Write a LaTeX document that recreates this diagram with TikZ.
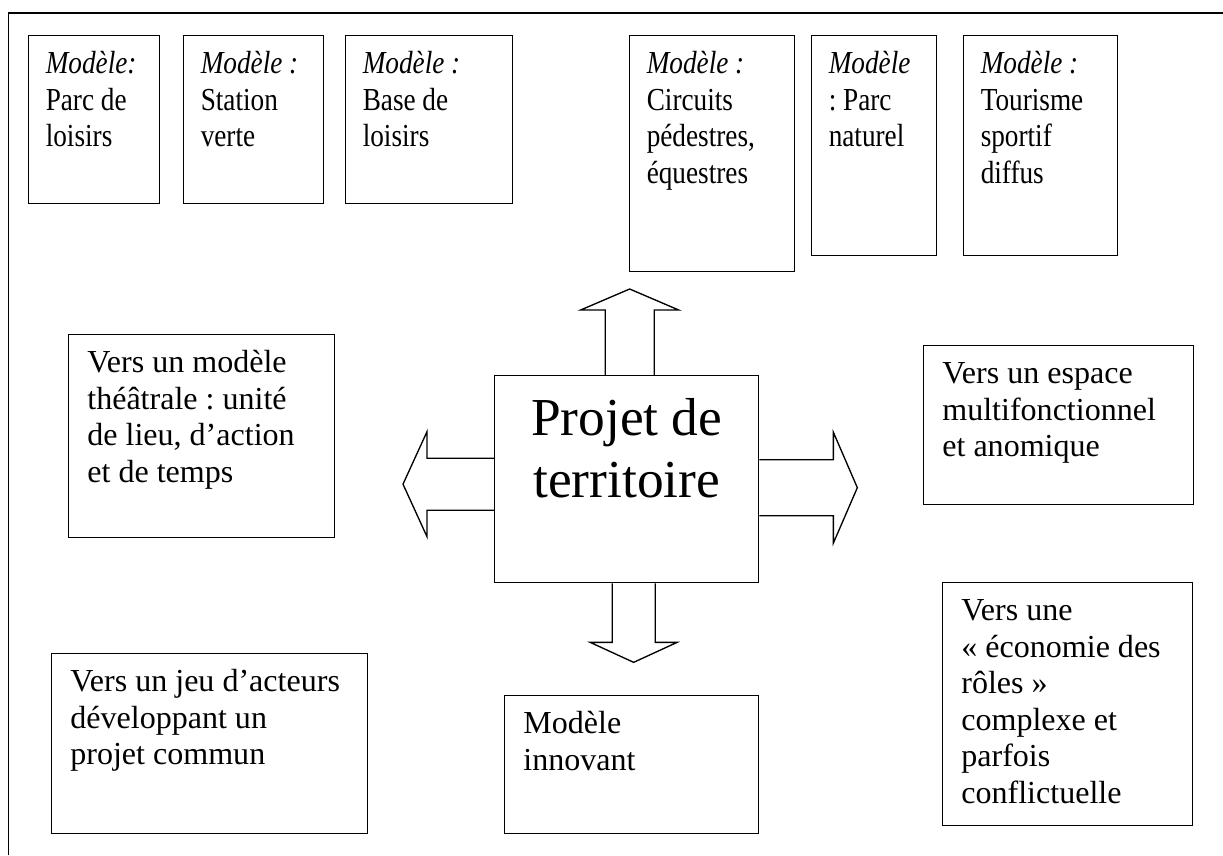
\documentclass[tikz,border=0pt]{standalone}
\usepackage{fontspec}
\setmainfont{Liberation Serif}
\newfontfamily\narrowserif[FakeStretch=0.85]{Liberation Serif}
\frenchspacing
\usetikzlibrary{calc}
\newcommand\bigarrow[6]{
  \begin{scope}[shift={#1},rotate=#2]
    \draw[fat] (0,-#4/2) -- (#3-#6,-#4/2) -- (#3-#6,-#5/2) -- (#3,0)
      -- (#3-#6,#5/2) -- (#3-#6,#4/2) -- (0,#4/2);
  \end{scope}
}
\tikzset{
  panel/.style 2 args={draw,line width=0.5pt,anchor=north west,align=flush left,
    inner xsep=7pt,inner ysep=0pt,font=\fontsize{12}{13.7}\selectfont,
    text width=#1*0.3745pt-14pt,text height=14.2pt,
    text depth=#2*0.3745pt-14.2pt},
  model/.style 2 args={panel={#1}{#2},inner xsep=6.4pt,
    text width=#1*0.3745pt-12.8pt,
    font=\narrowserif\fontsize{12}{13.7}\selectfont},
  fat/.style={line width=0.5pt,line join=miter}
}

\begin{document}
\begin{tikzpicture}[x=0.3745pt,y=-0.3745pt]
    \useasboundingbox (0,0) rectangle (1223,855);
    \draw[line width=0.6pt] (8.5,855) -- (8.5,13) -- (1223,13);
    \node[model={131}{168}] (parc) at (28,35) {\textit{Modèle:}\\Parc de\\loisirs};
    \node[model={140}{168}] (station) at (183,35) {\textit{Modèle :}\\Station\\verte};
    \node[model={167}{168}] (base) at (345,35) {\textit{Modèle :}\\Base de\\loisirs};
    \node[model={165}{236}] (circuits) at (629,35) {\textit{Modèle :}\\Circuits\\pédestres,\\équestres};
    \node[model={125}{220}] (naturel) at (811,35) {\textit{Modèle}\\: Parc\\naturel};
    \node[model={154}{220}] (sportif) at (963,35) {\textit{Modèle :}\\Tourisme\\sportif\\diffus};
    \node[panel={266}{203}] (theatre) at (68,334) {Vers un modèle\\théâtrale : unité\\de lieu, d’action\\et de temps};
    \node[panel={270}{159}] (espace) at (923,345) {Vers un espace\\multifonctionnel\\et anomique};
    \node[panel={264}{207},align=flush center,font=\fontsize{20}{23.2}\selectfont,
      text height=22.5pt,text depth=207*0.3745pt-22.5pt] (projet) at (494,375) {Projet de\\territoire};
    \node[panel={316}{180}] (acteurs) at (51,653) {Vers un jeu d’acteurs\\développant un\\projet commun};
    \node[panel={254}{138}] (innovant) at (504,695) {Modèle\\innovant};
    \node[panel={250}{243}] (roles) at (942,582) {Vers une\\« économie des\\rôles »\\complexe et\\parfois\\conflictuelle};
    \bigarrow{($(projet.north)+(3,0)$)}{90}{86}{49}{98}{21}
    \bigarrow{($(projet.west)+(0,5)$)}{180}{91}{52}{105}{24}
    \bigarrow{($(projet.east)+(0,8.5)$)}{0}{98}{56}{111}{24}
    \bigarrow{($(projet.south)+(7,0)$)}{270}{79}{43}{87}{20}
\end{tikzpicture}
\end{document}
